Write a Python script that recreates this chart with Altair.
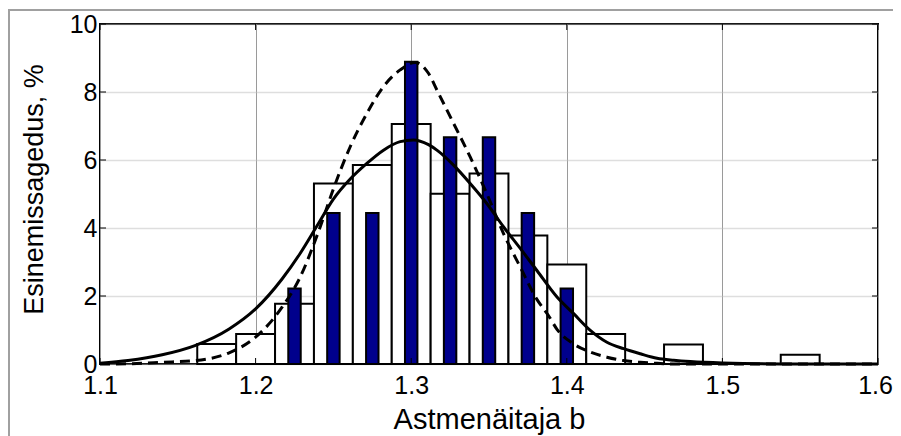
import altair as alt
import pandas as pd

# ---- data ----
x_ticks = [1.1, 1.2, 1.3, 1.4, 1.5, 1.6]
y_ticks = [0, 2, 4, 6, 8, 10]

# wide (white) histogram, bin width 0.025
white_centers = [1.175, 1.2, 1.225, 1.25, 1.275, 1.3, 1.325, 1.35, 1.375, 1.4,
                 1.425, 1.45, 1.475, 1.5, 1.525, 1.55]
white_values = [0.59, 0.88, 1.77, 5.31, 5.85, 7.06, 5.01, 5.60, 3.78, 2.93,
                0.88, 0.0, 0.57, 0.0, 0.0, 0.27]
white_bin = 0.025

# narrow (blue) histogram
blue_centers = [1.225, 1.25, 1.275, 1.3, 1.325, 1.35, 1.375, 1.4]
blue_values = [2.22, 4.44, 4.44, 8.89, 6.67, 6.67, 4.44, 2.22]
blue_bin = 0.008

# solid fitted curve
solid_x = [1.100, 1.118, 1.140, 1.161, 1.183, 1.200, 1.217, 1.2286, 1.2393, 1.250,
           1.2608, 1.2715, 1.2822, 1.2929, 1.3015, 1.3111, 1.3165, 1.3272, 1.3379,
           1.3486, 1.3594, 1.3701, 1.3808, 1.3937, 1.4044, 1.4151, 1.4258, 1.4365,
           1.4473, 1.4580, 1.4687, 1.4794, 1.500, 1.550, 1.600]
solid_y = [0.02, 0.10, 0.27, 0.54, 1.03, 1.62, 2.50, 3.25, 4.05, 4.85,
           5.44, 5.90, 6.29, 6.54, 6.59, 6.45, 6.29, 5.85, 5.31,
           4.72, 4.03, 3.40, 2.75, 1.97, 1.48, 0.99, 0.64, 0.45,
           0.30, 0.17, 0.11, 0.07, 0.03, 0.0, 0.0]

# dashed fitted curve
dash_x = [1.100, 1.120, 1.140, 1.161, 1.183, 1.200, 1.217, 1.2286, 1.2372, 1.2415,
          1.250, 1.2608, 1.2715, 1.2822, 1.2929, 1.3026, 1.3111, 1.3165, 1.3272,
          1.3379, 1.3486, 1.3594, 1.3701, 1.3808, 1.3883, 1.3937, 1.4044, 1.4151,
          1.4258, 1.4365, 1.4473, 1.4580, 1.4687, 1.500, 1.600]
dash_y = [0.0, 0.01, 0.05, 0.10, 0.33, 0.79, 1.67, 2.55, 3.50, 4.03,
          5.15, 6.39, 7.37, 8.16, 8.65, 8.87, 8.55, 8.06, 7.08,
          6.09, 5.01, 3.83, 2.85, 1.90, 1.42, 1.02, 0.59, 0.35,
          0.20, 0.10, 0.05, 0.02, 0.0, 0.0, 0.0]

# ---- tables ----
white_df = pd.DataFrame({
    "x0": [c - white_bin / 2 for c in white_centers],
    "x1": [c + white_bin / 2 for c in white_centers],
    "v": white_values,
})
blue_df = pd.DataFrame({
    "x0": [c - blue_bin / 2 for c in blue_centers],
    "x1": [c + blue_bin / 2 for c in blue_centers],
    "v": blue_values,
})
solid_df = pd.DataFrame({"x": solid_x, "y": solid_y})
dash_df = pd.DataFrame({"x": dash_x, "y": dash_y})
xt_df = pd.DataFrame({"t": x_ticks})
yt_df = pd.DataFrame({"t": y_ticks})
one_df = pd.DataFrame({"a": [0]})

FONT = "Liberation Sans, Arial, Helvetica, sans-serif"
W, H = 778, 340
PAD = {"left": 92, "top": 16, "right": 15, "bottom": 72}
TOTAL_W = W + PAD["left"] + PAD["right"]
TOTAL_H = H + PAD["top"] + PAD["bottom"]

xscale = alt.Scale(domain=[1.1, 1.6], nice=False, zero=False)
yscale = alt.Scale(domain=[0, 10], nice=False, zero=True)

x_axis = alt.Axis(
    values=x_ticks, format=".1f", labelFont=FONT, labelFontSize=25, labelColor="black",
    labelPadding=9, ticks=False, tickSize=0, domain=False, grid=True,
    labelOffset={"condition": {"test": "datum.value > 1.55", "value": -3}, "value": 0},
    gridColor="#9a9a9a", gridWidth=1, labelOverlap=False, labelFlush=False,
    title="Astmenäitaja b", titleFont=FONT, titleFontSize=29, titleFontWeight="normal",
    titleColor="black", titleX=389, titleY=64, titleBaseline="alphabetic",
    titleAlign="center",
)
y_axis = alt.Axis(
    values=y_ticks, format="d", labelFont=FONT, labelFontSize=25, labelColor="black",
    labelPadding=3, labelOffset=0, ticks=False, tickSize=0, domain=False, grid=True,
    gridColor="#bdbdbd", gridWidth=1.5, gridDash=[1, 1], labelOverlap=False,
    labelFlush=False,
    title="Esinemissagedus, %", titleFont=FONT, titleFontSize=27,
    titleFontWeight="normal", titleColor="black", titleAngle=270, titleX=-58,
    titleY=165, titleBaseline="alphabetic", titleAlign="center",
)

white = alt.Chart(white_df).mark_rect(fill="white", stroke="black", strokeWidth=2).encode(
    x=alt.X("x0:Q", scale=xscale, axis=x_axis),
    x2="x1:Q",
    y=alt.Y("v:Q", scale=yscale, axis=y_axis),
    y2=alt.datum(0),
)

blue = alt.Chart(blue_df).mark_rect(fill="#00008c", stroke="black", strokeWidth=2).encode(
    x=alt.X("x0:Q", scale=xscale),
    x2="x1:Q",
    y=alt.Y("v:Q", scale=yscale),
    y2=alt.datum(0),
)

solid = alt.Chart(solid_df).mark_line(color="black", strokeWidth=3, interpolate="monotone").encode(
    x=alt.X("x:Q", scale=xscale),
    y=alt.Y("y:Q", scale=yscale),
)

dashed = alt.Chart(dash_df).mark_line(
    color="black", strokeWidth=3, strokeDash=[10, 6], interpolate="monotone"
).encode(
    x=alt.X("x:Q", scale=xscale),
    y=alt.Y("y:Q", scale=yscale),
)

# inward tick marks on all four sides
tick_b = alt.Chart(xt_df).mark_rule(color="black", strokeWidth=1).encode(
    x=alt.X("t:Q", scale=xscale), y=alt.value(H), y2=alt.value(H - 6))
tick_t = alt.Chart(xt_df).mark_rule(color="black", strokeWidth=1).encode(
    x=alt.X("t:Q", scale=xscale), y=alt.value(0), y2=alt.value(6))
tick_l = alt.Chart(yt_df).mark_rule(color="black", strokeWidth=1).encode(
    y=alt.Y("t:Q", scale=yscale), x=alt.value(0), x2=alt.value(6))
tick_r = alt.Chart(yt_df).mark_rule(color="black", strokeWidth=1).encode(
    y=alt.Y("t:Q", scale=yscale), x=alt.value(W), x2=alt.value(W - 6))

# outer figure frame (top and left edges; the others lie outside the window)
frame_top = alt.Chart(one_df).mark_rule(color="#a0a0a0", strokeWidth=2).encode(
    x=alt.value(-91), x2=alt.value(TOTAL_W - PAD["left"]), y=alt.value(-14))
frame_left = alt.Chart(one_df).mark_rule(color="#a0a0a0", strokeWidth=2).encode(
    x=alt.value(-91), y=alt.value(-15), y2=alt.value(TOTAL_H - PAD["top"]))

chart = alt.layer(
    white, blue, solid, dashed, tick_b, tick_t, tick_l, tick_r, frame_top, frame_left
).properties(
    width=W, height=H,
    padding=PAD,
    autosize=alt.AutoSizeParams(type="none"),
    background="white",
).configure_view(
    stroke="black", strokeWidth=2,
)

chart.save("out.html", embed_options={"renderer": "svg", "actions": False})
